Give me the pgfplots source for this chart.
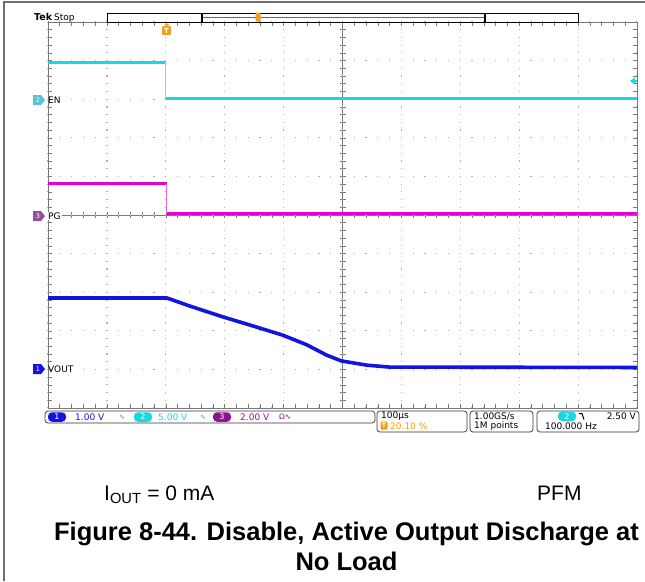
\documentclass[border=0pt]{standalone}
\usepackage{pgfplots}
\pgfplotsset{compat=1.18}
\usepackage{fontspec}
\setmainfont{Liberation Sans}
\newfontfamily\scopefont{DejaVu Sans}

\definecolor{chOne}{RGB}{20,20,225}
\definecolor{chTwo}{RGB}{25,215,225}
\definecolor{chThree}{RGB}{225,0,215}
\definecolor{padTwo}{RGB}{90,195,205}
\definecolor{padThree}{RGB}{150,80,150}
\definecolor{pillThree}{RGB}{140,20,140}
\definecolor{tekOrange}{RGB}{240,160,20}
\definecolor{gridgray}{RGB}{175,175,175}
\definecolor{framegray}{RGB}{120,120,120}
\definecolor{edgegray}{RGB}{110,110,110}

% channel pad on the left edge: tip x, y, colour, number
\newcommand{\chpad}[4]{%
  \fill[#3] (#1-12,#2-5) -- (#1-4,#2-5) -- (#1,#2) -- (#1-4,#2+5) -- (#1-12,#2+5) -- cycle;
  \node[text=white, font=\scopefont\fontsize{6.5}{6.5}\selectfont] at (#1-7,#2) {#4};}
% rounded channel pill in the readout
\newcommand{\pill}[4]{%
  \node[fill=#3, rounded corners=4pt, inner sep=0pt, minimum width=18pt,
        minimum height=9.5pt, text=white, font=\scopefont\fontsize{8}{8}\selectfont] at (#1,#2) {#4};}

\begin{document}
\begin{tikzpicture}
\path[use as bounding box] (0,0) rectangle (645pt,-581pt);
\fill[white] (0,0) rectangle (645pt,-581pt);

\begin{scope}[x=1pt,y=-1pt]
  % outer border
  \draw[edgegray, line width=2pt] (4,581) -- (4,2) -- (645,2);
  % centre cross with ticks
  \draw[framegray, line width=0.7pt] (342.5,22) -- (342.5,408);
  \draw[framegray, line width=0.7pt] (48,215) -- (637,215);
  \foreach \i in {0,...,50} {
    \draw[framegray, line width=0.6pt] (48+\i*11.78,212) -- (48+\i*11.78,218);
    \draw[framegray, line width=0.6pt] (339.5,408-\i*7.72) -- (345.5,408-\i*7.72);
  }
\end{scope}

\begin{axis}[
  at={(48pt,-408pt)}, anchor=south west,
  scale only axis, width=589pt, height=386pt,
  xmin=0, xmax=10, ymin=0, ymax=10,
  xtick={0,...,10}, ytick={0,...,10},
  minor x tick num=4, minor y tick num=4,
  xticklabels={}, yticklabels={},
  tick align=inside, tick pos=both,
  major tick length=4pt, minor tick length=4pt,
  every tick/.style={framegray, line width=0.6pt},
  axis line style={framegray, line width=0.8pt},
  xmajorgrids, ymajorgrids,
  major x grid style={gridgray, line width=1.2pt, dash pattern=on 1.2pt off 6.52pt, dash phase=0.6pt},
  major y grid style={gridgray, line width=1.2pt, dash pattern=on 1.2pt off 10.58pt, dash phase=0.6pt},
]
% EN (channel 2)
\addplot[chTwo, line width=2.8pt] coordinates {(0,8.96) (2.00,8.96)};
\addplot[chTwo!70, line width=1.0pt] coordinates {(2.00,8.96) (2.00,8.01)};
\addplot[chTwo, line width=2.8pt] coordinates {(2.00,8.01) (10,8.01)};
% PG (channel 3)
\addplot[chThree, line width=2.8pt] coordinates {(0,5.81) (2.02,5.81)};
\addplot[chThree!60, line width=1.0pt] coordinates {(2.02,5.81) (2.02,5.03)};
\addplot[chThree, line width=2.8pt] coordinates {(2.02,5.03) (10,5.03)};
% VOUT (channel 1)
\addplot[chOne, line width=3.6pt, line join=round] coordinates {
  (0,2.85) (2.02,2.85) (2.41,2.64) (2.97,2.36) (3.47,2.13) (3.98,1.89)
  (4.39,1.64) (4.73,1.37) (4.98,1.22) (5.41,1.11) (5.80,1.06) (10,1.05)};
\end{axis}

\begin{scope}[x=1pt,y=-1pt]
  % top header
  \node[anchor=base west, font=\scopefont\bfseries\fontsize{9.5}{9.5}\selectfont, inner sep=0pt] at (34,20) {Tek};
  \node[anchor=base west, font=\scopefont\fontsize{9}{9}\selectfont, inner sep=0pt] at (54,20) {Stop};
  \draw[black, line width=0.7pt] (107,13) rectangle (578,22);
  \draw[color={rgb,255:red,90;green,90;blue,200}, line width=0.9pt] (202,17) -- (485,17);
  \draw[black, line width=1.4pt] (202,13) -- (202,22);
  \draw[black, line width=1.4pt] (485,13) -- (485,22);
  \fill[tekOrange, rounded corners=1pt] (255.5,12.5) rectangle (260.5,21.5);
  % trigger position marker
  \fill[tekOrange] (164,24) -- (169,24) -- (166.5,26.5) -- cycle;
  \fill[tekOrange, rounded corners=1.2pt] (162,26) rectangle (171,35);
  \node[text=white, font=\scopefont\bfseries\fontsize{7}{7}\selectfont, inner sep=0pt] at (166.5,30.5) {T};
  % trigger level arrow
  \fill[chTwo] (630,81) -- (635,77.5) -- (635,84.5) -- cycle;
  \draw[chTwo, line width=1.2pt] (634,81) -- (637,81);

  % channel pads and labels
  \chpad{45}{100}{padTwo}{2}
  \chpad{45}{216}{padThree}{3}
  \chpad{45}{369}{chOne}{1}
  \node[anchor=west, font=\scopefont\fontsize{9}{9}\selectfont, inner sep=1pt] at (47,100) {EN};
  \node[anchor=west, font=\scopefont\fontsize{9}{9}\selectfont, inner sep=1pt, fill=white] at (47,216) {PG};
  \node[anchor=west, font=\scopefont\fontsize{9}{9}\selectfont, inner sep=1pt] at (47,369) {VOUT};

  % readout boxes
  \draw[black!80, line width=0.7pt, rounded corners=3pt] (45,411) rectangle (375,423);
  \draw[black!80, line width=0.7pt, rounded corners=3pt] (377,411) rectangle (467,432);
  \draw[black!80, line width=0.7pt, rounded corners=3pt] (470,411) rectangle (533,432);
  \draw[black!80, line width=0.7pt, rounded corners=3pt] (537,411) rectangle (639,432);
  \begin{scope}[every node/.style={font=\scopefont\fontsize{9}{9}\selectfont, inner sep=0pt}]
    \pill{57}{417}{chOne}{1}
    \node[anchor=west, text=chOne] at (75,417) {1.00 V};
    \node[anchor=west, text=black!55, font=\scopefont\fontsize{7}{7}\selectfont] at (119,417) {∿};
    \pill{143}{417}{chTwo}{2}
    \node[anchor=west, text=chTwo] at (158,417) {5.00 V};
    \node[anchor=west, text=chTwo!80!black, font=\scopefont\fontsize{7}{7}\selectfont] at (200,417) {∿};
    \pill{222}{417}{pillThree}{3}
    \node[anchor=west, text=pillThree] at (240,417) {2.00 V};
    \node[anchor=west, text=pillThree, font=\scopefont\fontsize{7.5}{7.5}\selectfont] at (279,417) {Ω∿};
    \node[anchor=west] at (381,416.3) {100µs};
    \fill[tekOrange, rounded corners=1pt] (380.5,421.5) rectangle (387.5,429.5);
    \node[text=white, font=\scopefont\bfseries\fontsize{6}{6}\selectfont] at (384,425.5) {T};
    \node[anchor=west, text=tekOrange] at (390,425.8) {20.10 \%};
    \node[anchor=west] at (474,416.3) {1.00GS/s};
    \node[anchor=west] at (474,425.8) {1M points};
    \pill{567}{416.3}{chTwo}{2}
    \draw[black, line width=1pt] (579,413.5) -- (582,413.5) -- (584,419.5);
    \node[anchor=east] at (636,416.3) {2.50 V};
    \node[anchor=west] at (545,426) {100.000 Hz};
  \end{scope}

  % conditions and caption
  \node[anchor=base west, font=\fontsize{21}{21}\selectfont, inner sep=0pt] at (104,500) {I\textsubscript{OUT} = 0 mA};
  \node[anchor=base west, font=\fontsize{21}{21}\selectfont, inner sep=0pt] at (537,500) {PFM};
  \node[anchor=base, font=\bfseries\fontsize{25.5}{25.5}\selectfont, inner sep=0pt] at (346.5,540) {Figure 8-44. Disable, Active Output Discharge at};
  \node[anchor=base, font=\bfseries\fontsize{25.5}{25.5}\selectfont, inner sep=0pt] at (346.5,570) {No Load};
\end{scope}
\end{tikzpicture}
\end{document}
